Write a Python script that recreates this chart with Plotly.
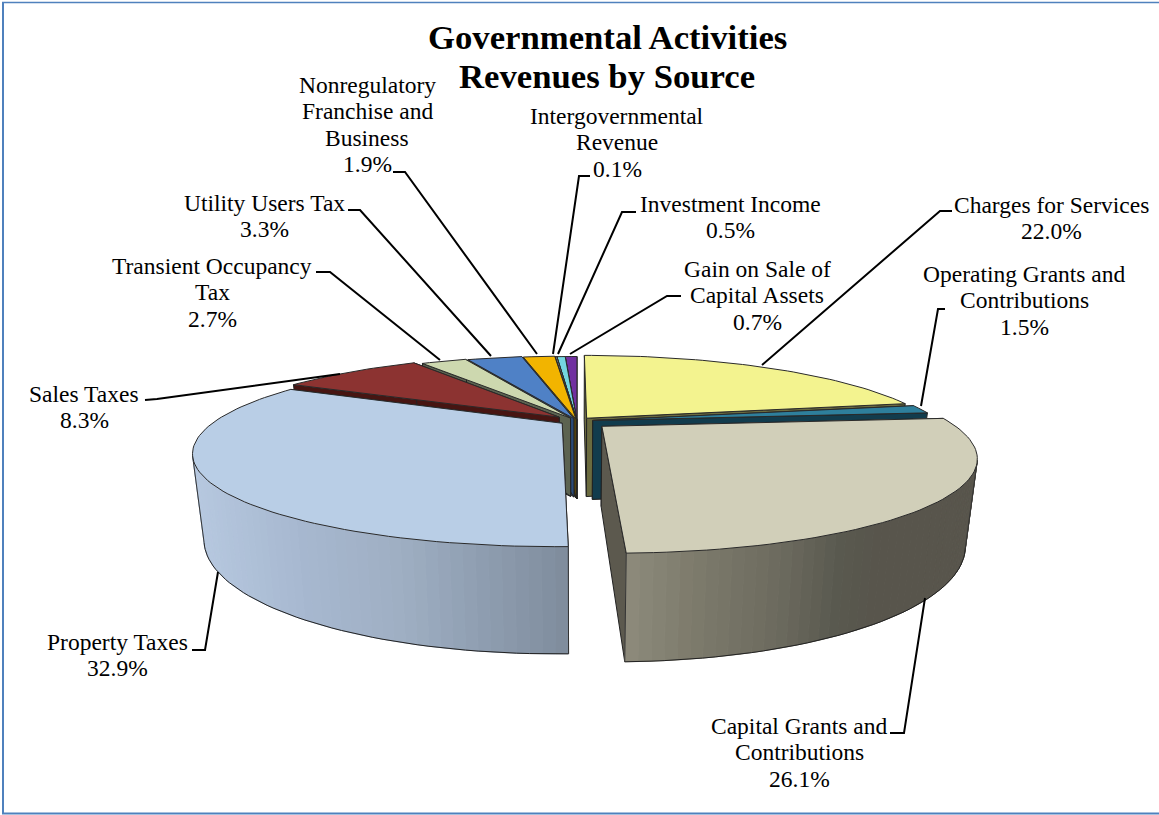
import numpy as np
import plotly.graph_objects as go

# ---------- data ----------
categories = ["Charges for Services", "Operating Grants and\nContributions", "Capital Grants and\nContributions",
              "Property Taxes", "Sales Taxes", "Transient Occupancy\nTax", "Utility Users Tax",
              "Nonregulatory\nFranchise and\nBusiness", "Intergovernmental\nRevenue", "Investment Income",
              "Gain on Sale of\nCapital Assets"]
values = [22.0, 1.5, 26.1, 32.9, 8.3, 2.7, 3.3, 1.9, 0.1, 0.5, 0.7]
title_lines = ["Governmental Activities", "Revenues by Source"]

# ---------- style ----------
top_colors = ["#f3f38f", "#2e7f9c", "#d1cfb9", "#b9cee6", "#8c3331", "#cdd8af", "#4f81c6", "#f2b400", "#8a8a8a", "#74d6e0", "#7030a0"]
face_colors = ["#6b6b3f", "#123c4d", "#5c594e", "#6d7480", "#471512", "#5c6350", "#2a4a78", "#7a5c00", "#444444", "#2f6f78", "#3a1a55"]
# outer-wall shading, keyed on horizontal screen position
wall_stops = {2: [(625, "#8e8b7c"), (700, "#7c7a6b"), (780, "#6d6b5f"), (840, "#5a5a50"), (880, "#58554c"), (990, "#58554c")],
              3: [(190, "#b7c9e0"), (300, "#a7b8d0"), (400, "#9fafc3"), (480, "#8f9eb1"), (570, "#7f8c9c")]}
explode = [.044, .046, .094, .05, .07, .04, .03, .02, .01, .01, .01]
draw_order = [10, 9, 8, 7, 6, 5, 4, 0, 1, 3, 2]
CX, CY, RX, RY, K = 577, 421, 347, 83.7, .308
DEPTH0, DEPTH1, XINSET = 18, 61, .97

label_pos = [(1051, 205), (1024, 274), (799, 726), (117, 642), (84, 394), (212, 266), (264, 203), (367, 85),
             (617, 116), (730, 204), (757, 269)]
leaders = [[(952, 211), (940, 211), (762, 365)], [(945, 309), (938, 309), (921, 406)],
           [(890, 733), (904, 733), (925, 598)], [(192, 650), (205, 650), (218, 572)],
           [(145, 400), (157, 399), (340, 374)], [(316, 272), (330, 272), (440, 360)],
           [(348, 210), (360, 210), (491, 356)], [(393, 172), (405, 172), (537, 354)],
           [(590, 176), (579, 176), (553, 354)], [(636, 212), (622, 212), (558, 354)],
           [(681, 296), (667, 296), (570, 354)]]
LINE_H = 26.3
FONT = "Liberation Serif"


def project(X, Z, bottom=False):
    s = 1 / (1 + K * Z)
    if bottom:
        return CX + RX * X * s * XINSET, CY - RY * Z * s + DEPTH0 + DEPTH1 * s
    return CX + RX * X * s, CY - RY * Z * s


def hex2rgb(h):
    return np.array([int(h[i:i + 2], 16) for i in (1, 3, 5)], float)


def stop_color(stops, f):
    fs = [a for a, _ in stops]
    cs = np.array([hex2rgb(c) for _, c in stops])
    rgb = [np.interp(f, fs, cs[:, i]) for i in range(3)]
    return "rgb(%d,%d,%d)" % tuple(rgb)


fig = go.Figure()


def poly(xs, ys, fill, line=None, width=1):
    fig.add_trace(go.Scatter(x=list(xs), y=list(ys), mode="lines", fill="toself", fillcolor=fill,
                             line=dict(color=line or fill, width=width), hoverinfo="skip", showlegend=False))


def stroke(xs, ys, color="#222222", width=1):
    fig.add_trace(go.Scatter(x=list(xs), y=list(ys), mode="lines", line=dict(color=color, width=width),
                             hoverinfo="skip", showlegend=False))


cum = np.concatenate([[0], np.cumsum(values)]) / sum(values) * 2 * np.pi

for i in draw_order:
    a0, a1 = cum[i], cum[i + 1]
    mid = (a0 + a1) / 2
    ox, oz = explode[i] * np.sin(mid), explode[i] * np.cos(mid)
    n = max(2, int(np.degrees(a1 - a0) / 1.5))
    th = np.linspace(a0, a1, n + 1)
    X, Z = ox + np.sin(th), oz + np.cos(th)

    # radial faces
    for edge in (0, n):
        xt, yt = project(np.array([ox, X[edge]]), np.array([oz, Z[edge]]))
        xb, yb = project(np.array([ox, X[edge]]), np.array([oz, Z[edge]]), True)
        poly([xt[0], xt[1], xb[1], xb[0], xt[0]], [yt[0], yt[1], yb[1], yb[0], yt[0]], face_colors[i], "#222222")

    # outer wall: only the part turned toward the viewer, in shaded strips
    xt, yt = project(X, Z)
    xb, yb = project(X, Z, True)
    facing = X * np.sin(th) + (Z + 1 / K) * np.cos(th) < 0
    idx = np.where(facing)[0]
    if len(idx) > 1:
        for j in idx[:-1]:
            col = stop_color(wall_stops[i], xt[j:j + 2].mean()) if i in wall_stops else face_colors[i]
            poly([xt[j], xt[j + 1], xb[j + 1], xb[j], xt[j]], [yt[j], yt[j + 1], yb[j + 1], yb[j], yt[j]], col)
        stroke(xb[idx], yb[idx], "#222222")
        stroke([xb[idx[0]], xt[idx[0]]], [yb[idx[0]], yt[idx[0]]], "#333333")
        stroke([xb[idx[-1]], xt[idx[-1]]], [yb[idx[-1]], yt[idx[-1]]], "#333333")

    # top face
    ax, ay = project(np.array([ox]), np.array([oz]))
    poly(np.r_[ax, xt, ax], np.r_[ay, yt, ay], top_colors[i], "#2a2a2a")

for pts in leaders:
    stroke([p[0] for p in pts], [p[1] for p in pts], "black", 2)

annotations = []
for k, line in enumerate(title_lines):
    annotations.append(dict(x=607, y=37.5 + 39 * k, text=line, showarrow=False, xref="x", yref="y",
                            font=dict(family=FONT, size=34.7, color="black", weight="bold")))
for name, val, (lx, ly) in zip(categories, values, label_pos):
    lines = name.split("\n") + ["%.1f%%" % val]
    for k, line in enumerate(lines):
        annotations.append(dict(x=lx, y=ly + LINE_H * k, text=line, showarrow=False, xref="x", yref="y",
                                font=dict(family=FONT, size=23.5, color="black")))

# outer frame: top, left and bottom rules
shapes = [dict(type="line", x0=2, x1=1159, y0=2.5, y1=2.5, line=dict(color="#4f81bd", width=1.5)),
          dict(type="line", x0=3, x1=3, y0=2, y1=814, line=dict(color="#4f81bd", width=2)),
          dict(type="line", x0=2, x1=1159, y0=813.5, y1=813.5, line=dict(color="#4f81bd", width=2))]

fig.update_layout(width=1159, height=815, margin=dict(l=0, r=0, t=0, b=0), paper_bgcolor="white", plot_bgcolor="white",
                  xaxis=dict(range=[0, 1159], visible=False, fixedrange=True),
                  yaxis=dict(range=[815, 0], visible=False, fixedrange=True),
                  showlegend=False, annotations=annotations, shapes=shapes)
fig.write_html("out.html", post_script="document.body.style.margin='0';document.body.style.overflow='hidden';",
               config=dict(displayModeBar=False))
